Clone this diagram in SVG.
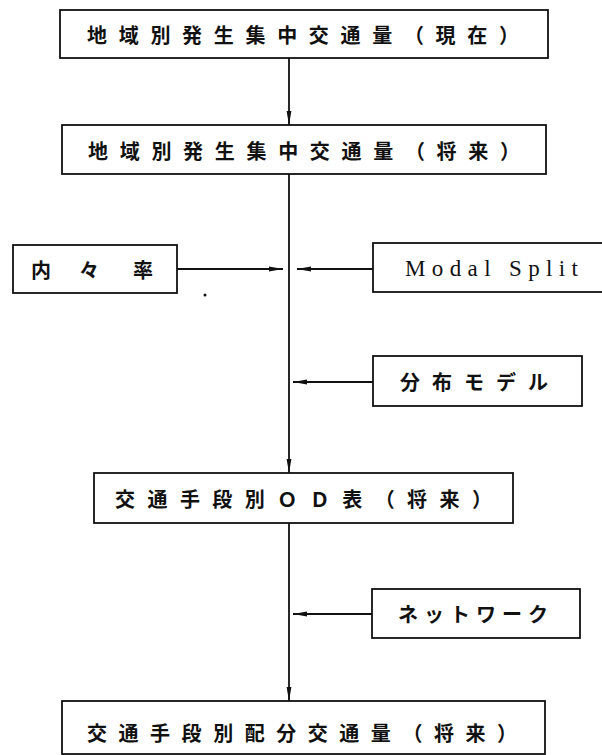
<svg xmlns="http://www.w3.org/2000/svg" width="602" height="755" viewBox="0 0 602 755">
<style>
.box{fill:#fff;stroke:#111;stroke-width:1.8}
.jp{font-family:"Noto Sans CJK JP","Noto Sans CJK SC",sans-serif;font-size:20px;font-weight:bold;fill:#111;dominant-baseline:central}
.en{font-family:"Liberation Serif",serif;font-size:23px;fill:#111;dominant-baseline:central}
.ln{stroke:#111;stroke-width:1.8;fill:none}
</style>
<defs>
<marker id="ah" viewBox="0 0 14 6" refX="14" refY="3" markerWidth="14" markerHeight="6" markerUnits="userSpaceOnUse" orient="auto">
<path d="M0,0.6 L14,3 L0,5.4 Z" fill="#111"/>
</marker>
</defs>
<g id="connectors">
<line class="ln" x1="289" y1="58" x2="289" y2="125" marker-end="url(#ah)"/>
<line class="ln" x1="289" y1="174" x2="289" y2="473" marker-end="url(#ah)"/>
<line class="ln" x1="289" y1="523" x2="289" y2="701" marker-end="url(#ah)"/>
<line class="ln" x1="177" y1="269" x2="283" y2="269" marker-end="url(#ah)"/>
<line class="ln" x1="373" y1="269" x2="297" y2="269" marker-end="url(#ah)"/>
<line class="ln" x1="373" y1="382" x2="293" y2="382" marker-end="url(#ah)"/>
<line class="ln" x1="372" y1="614" x2="293" y2="614" marker-end="url(#ah)"/>
</g>
<g id="n1">
<rect class="box" x="60" y="10" width="488" height="48"/>
<text class="jp" x="87" y="34" textLength="432" lengthAdjust="spacing">地域別発生集中交通量（現在）</text>
</g>
<g id="n2">
<rect class="box" x="62" y="125" width="484" height="49"/>
<text class="jp" x="88" y="150" textLength="432" lengthAdjust="spacing">地域別発生集中交通量（将来）</text>
</g>
<g id="n3">
<rect class="box" x="13" y="245" width="164" height="48"/>
<text class="jp" x="31 79 133" y="269">内々率</text>
</g>
<g id="n4">
<rect class="box" x="373" y="243" width="240" height="49"/>
<text class="en" x="405" y="268" textLength="173" lengthAdjust="spacing">Modal Split</text>
</g>
<g id="n5">
<rect class="box" x="373" y="356" width="209" height="50"/>
<text class="jp" x="400" y="381" textLength="148" lengthAdjust="spacing">分布モデル</text>
</g>
<g id="n6">
<rect class="box" x="94" y="473" width="419" height="50"/>
<text class="jp" x="115" y="498" textLength="377" lengthAdjust="spacing">交通手段別ＯＤ表（将来）</text>
</g>
<g id="n7">
<rect class="box" x="372" y="589" width="208" height="49"/>
<text class="jp" x="398" y="613" textLength="150" lengthAdjust="spacing">ネットワーク</text>
</g>
<g id="n8">
<rect class="box" x="62" y="701" width="483" height="53"/>
<text class="jp" x="87" y="732" textLength="430" lengthAdjust="spacing">交通手段別配分交通量（将来）</text>
</g>
<circle cx="205" cy="295" r="1.5" fill="#111"/>
</svg>
